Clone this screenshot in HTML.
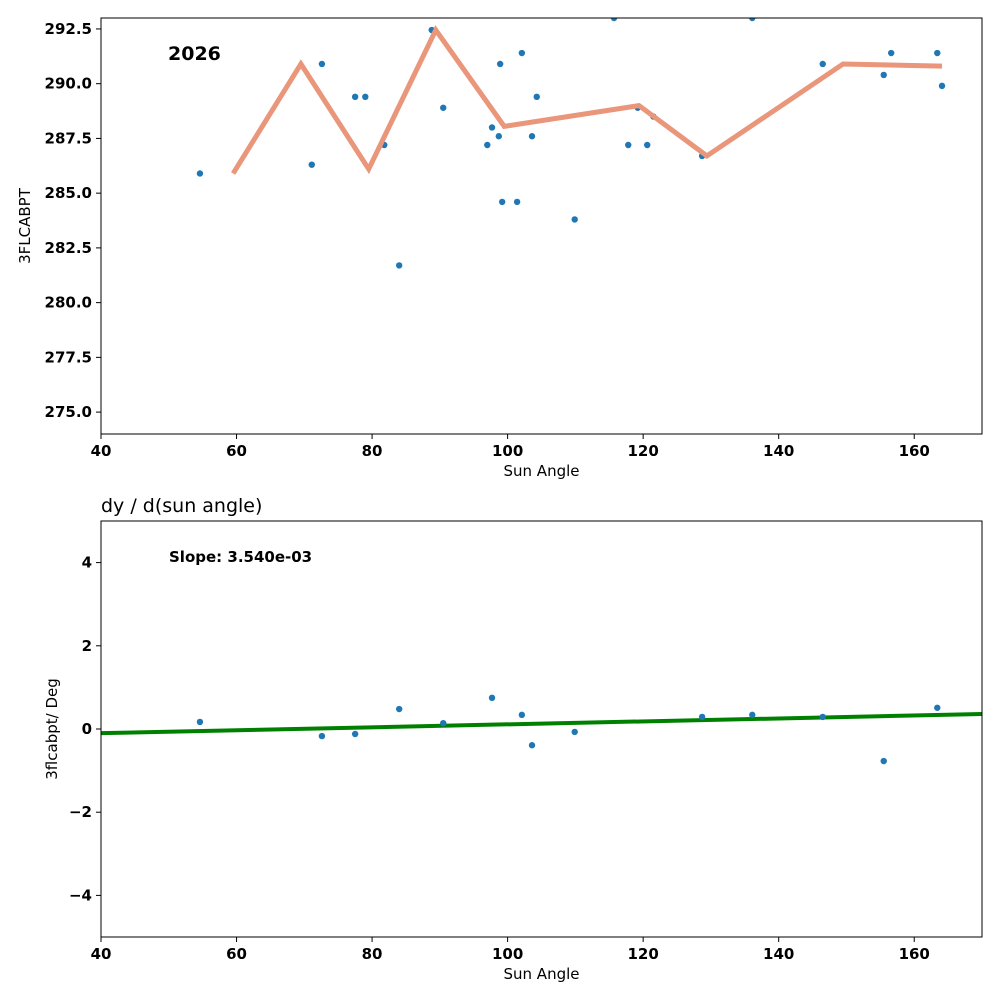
<!DOCTYPE html>
<html><head><meta charset="utf-8"><style>
body{margin:0;background:#fff;}
svg text{font-family:"DejaVu Sans","Liberation Sans",sans-serif;}
.tk{font-size:15px;font-weight:bold;}
.lb{font-size:15px;}
</style></head><body>
<svg id="c" width="1000" height="1000" xmlns="http://www.w3.org/2000/svg"></svg>
<script>
const topX=[54.6,71.1,72.6,77.5,79.0,81.8,84.0,88.8,90.5,97.0,97.7,98.7,98.9,99.2,101.4,102.1,103.6,104.3,109.9,115.7,117.8,119.2,120.6,121.5,128.7,136.1,146.5,155.5,156.6,163.4,164.1];
const topY=[285.9,286.3,290.9,289.4,289.4,287.2,281.7,292.45,288.9,287.2,288.0,287.6,290.9,284.6,284.6,291.4,287.6,289.4,283.8,293.0,287.2,288.9,287.2,288.5,286.7,293.0,290.9,290.4,291.4,291.4,289.9];
const lineX=[59.5,69.5,79.5,89.4,99.5,119.4,129.4,149.5,164.1];
const lineY=[285.9,290.9,286.1,292.45,288.05,289.0,286.7,290.9,290.8];
const botX=[54.6,72.6,77.5,84.0,90.5,97.7,102.1,103.6,109.9,128.7,136.1,146.5,155.5,163.4];
const botY=[0.17,-0.17,-0.12,0.48,0.14,0.75,0.34,-0.39,-0.07,0.29,0.34,0.29,-0.77,0.51];
const slope=0.00354, intercept=-0.242;
const xTicks=[40,60,80,100,120,140,160];
const topTicks=[275.0,277.5,280.0,282.5,285.0,287.5,290.0,292.5];
const botTicks=[-4,-2,0,2,4];

const svg=document.getElementById('c');
const NS='http://www.w3.org/2000/svg';
function mk(t,a,p){const e=document.createElementNS(NS,t);for(const k in a)e.setAttribute(k,a[k]);(p||svg).appendChild(e);return e;}
const L=101,R=982;
const sx=v=>L+(v-40)/130*(R-L);

function panel(T,B,y0,y1,yt,fmt,name){
  const sy=v=>B-(v-y0)/(y1-y0)*(B-T);
  const g=mk('g',{});
  
  
  const clip=mk('clipPath',{id:'cl'+T},g);mk('rect',{x:L,y:T,width:R-L,height:B-T},clip);
  xTicks.forEach(v=>{const x=sx(v);mk('line',{x1:x,x2:x,y1:B,y2:B+5,stroke:'#000'},g);
    const t=mk('text',{x:x,y:B+22,'text-anchor':'middle',class:'tk'},g);t.textContent=v;
    
    });
  yt.forEach(v=>{const y=sy(v);mk('line',{x1:L-5,x2:L,y1:y,y2:y,stroke:'#000'},g);
    const t=mk('text',{x:L-9,y:y+5,'text-anchor':'end',class:'tk'},g);t.textContent=fmt(v);
    
    });
  const t=mk('text',{x:(L+R)/2,y:B+42,'text-anchor':'middle',class:'lb'},g);t.textContent='Sun Angle';
  
  
  return {sy,g,clip:'url(#cl'+T+')'};
}

// top panel
const p1=panel(18,434,274,293,topTicks,v=>v.toFixed(1),'top-panel');
const d1=mk('g',{'clip-path':p1.clip},p1.g);
topX.forEach((x,i)=>{const c=mk('circle',{cx:sx(x),cy:p1.sy(topY[i]),r:3.2,fill:'#1f77b4'},d1);
  
  });
const pl=mk('polyline',{points:lineX.map((x,i)=>sx(x)+','+p1.sy(lineY[i])).join(' '),fill:'none',stroke:'#e9967a','stroke-width':5},p1.g);


mk('rect',{x:L,y:18,width:R-L,height:416,fill:'none',stroke:'#000'},p1.g);
let t=mk('text',{x:168,y:60,style:'font-size:19px;font-weight:bold'},p1.g);t.textContent='2026';

t=mk('text',{transform:'translate(30,226) rotate(-90)','text-anchor':'middle',class:'lb'},p1.g);t.textContent='3FLCABPT';


// bottom panel
const p2=panel(521,937,-5,5,botTicks,v=>v<0?'\u2212'+Math.abs(v):String(v),'bottom-panel');
const gl=mk('line',{x1:L,x2:R,y1:p2.sy(intercept+slope*40),y2:p2.sy(intercept+slope*170),stroke:'#008000','stroke-width':4},p2.g);

botX.forEach((x,i)=>{const c=mk('circle',{cx:sx(x),cy:p2.sy(botY[i]),r:3.2,fill:'#1f77b4'},p2.g);
  
  });
mk('rect',{x:L,y:521,width:R-L,height:416,fill:'none',stroke:'#000'},p2.g);
t=mk('text',{x:169,y:562,style:'font-size:15px;font-weight:bold'},p2.g);t.textContent='Slope: 3.540e-03';

t=mk('text',{x:101,y:512,style:'font-size:19px'},p2.g);t.textContent='dy / d(sun angle)';

t=mk('text',{transform:'translate(57,729) rotate(-90)','text-anchor':'middle',class:'lb'},p2.g);t.textContent='3flcabpt/ Deg';

</script>
</body></html>
